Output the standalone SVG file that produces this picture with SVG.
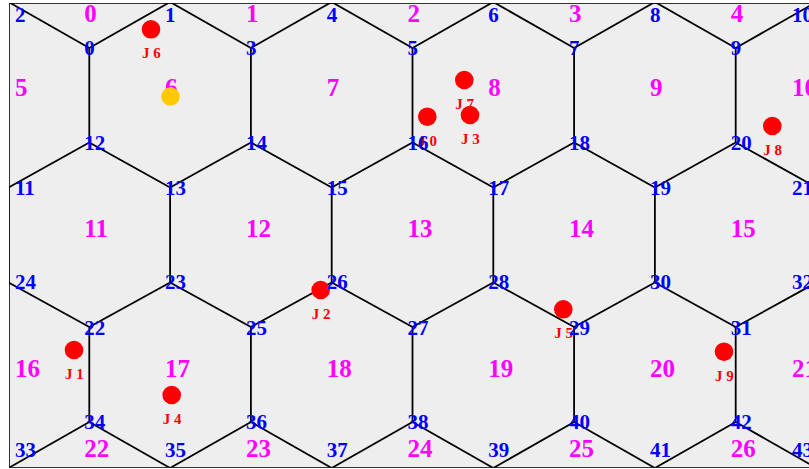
<svg xmlns="http://www.w3.org/2000/svg" width="809" height="469" viewBox="0 0 809 469">
<style>
.edge{fill:none;stroke:#000;stroke-width:1.8;stroke-linejoin:miter}
.hl{font-family:"Liberation Serif","Times New Roman",serif;font-weight:bold;font-size:25px;fill:#FF00FF}
.vl{font-family:"Liberation Serif","Times New Roman",serif;font-weight:bold;font-size:21px;fill:#0000FF}
.jl{font-family:"Liberation Serif","Times New Roman",serif;font-weight:bold;font-size:15px;fill:#FF0000}
.jd{fill:#FF0000}
.yd{fill:#FFC800}
</style>
<defs>
<clipPath id="panel"><rect x="9" y="3" width="810" height="464.5"/></clipPath>
</defs>
<rect x="0" y="0" width="809" height="469" fill="#FFFFFF"/>
<rect x="9.5" y="3.5" width="810" height="464" fill="#EEEEEE" stroke="#333333" stroke-width="1"/>
<g id="connectors" clip-path="url(#panel)">
<path class="edge" d="M8.5,2 L89.3,48 L170.1,2 L250.9,48 L331.7,2 L412.5,48 L493.3,2 L574.1,48 L654.9,2 L735.7,48 L816.5,2
M89.3,48V142.5 M250.9,48V142.5 M412.5,48V142.5 M574.1,48V142.5 M735.7,48V142.5
M8.5,187.5 L89.3,142.5 L170.1,187.5 L250.9,142.5 L331.7,187.5 L412.5,142.5 L493.3,187.5 L574.1,142.5 L654.9,187.5 L735.7,142.5 L816.5,187.5
M8.5,187.5V282.5 M170.1,187.5V282.5 M331.7,187.5V282.5 M493.3,187.5V282.5 M654.9,187.5V282.5 M816.5,187.5V282.5
M8.5,282.5 L89.3,327 L170.1,282.5 L250.9,327 L331.7,282.5 L412.5,327 L493.3,282.5 L574.1,327 L654.9,282.5 L735.7,327 L816.5,282.5
M89.3,327V422 M250.9,327V422 M412.5,327V422 M574.1,327V422 M735.7,327V422
M8.5,468 L89.3,422 L170.1,468 L250.9,422 L331.7,468 L412.5,422 L493.3,468 L574.1,422 L654.9,468 L735.7,422 L816.5,468"/>
</g>
<g id="hexes">
<g id="hex0"><text class="hl" x="84.3" y="22">0</text></g>
<g id="hex1"><text class="hl" x="245.9" y="22">1</text></g>
<g id="hex2"><text class="hl" x="407.5" y="22">2</text></g>
<g id="hex3"><text class="hl" x="569.1" y="22">3</text></g>
<g id="hex4"><text class="hl" x="730.7" y="22">4</text></g>
<g id="hex5"><text class="hl" x="15" y="96">5</text></g>
<g id="hex6"><text class="hl" x="165.1" y="96">6</text></g>
<g id="hex7"><text class="hl" x="326.7" y="96">7</text></g>
<g id="hex8"><text class="hl" x="488.3" y="96">8</text></g>
<g id="hex9"><text class="hl" x="649.9" y="96">9</text></g>
<g id="hex10"><text class="hl" x="792" y="96">10</text></g>
<g id="hex11"><text class="hl" x="84.3" y="236.5">11</text></g>
<g id="hex12"><text class="hl" x="245.9" y="236.5">12</text></g>
<g id="hex13"><text class="hl" x="407.5" y="236.5">13</text></g>
<g id="hex14"><text class="hl" x="569.1" y="236.5">14</text></g>
<g id="hex15"><text class="hl" x="730.7" y="236.5">15</text></g>
<g id="hex16"><text class="hl" x="15" y="376.5">16</text></g>
<g id="hex17"><text class="hl" x="165.1" y="376.5">17</text></g>
<g id="hex18"><text class="hl" x="326.7" y="376.5">18</text></g>
<g id="hex19"><text class="hl" x="488.3" y="376.5">19</text></g>
<g id="hex20"><text class="hl" x="649.9" y="376.5">20</text></g>
<g id="hex21"><text class="hl" x="792" y="376.5">21</text></g>
<g id="hex22"><text class="hl" x="84.3" y="457">22</text></g>
<g id="hex23"><text class="hl" x="245.9" y="457">23</text></g>
<g id="hex24"><text class="hl" x="407.5" y="457">24</text></g>
<g id="hex25"><text class="hl" x="569.1" y="457">25</text></g>
<g id="hex26"><text class="hl" x="730.7" y="457">26</text></g>
</g>
<g id="markers">
<g id="start"><circle class="yd" cx="170.5" cy="96.5" r="9.3"/></g>
<g id="J0"><circle class="jd" cx="427.3" cy="116.7" r="9.3"/><text class="jl" x="418.3" y="145.5">J 0</text></g>
<g id="J1"><circle class="jd" cx="74" cy="350" r="9.3"/><text class="jl" x="65" y="378.5">J 1</text></g>
<g id="J2"><circle class="jd" cx="320.7" cy="290" r="9.3"/><text class="jl" x="311.7" y="318.5">J 2</text></g>
<g id="J3"><circle class="jd" cx="470" cy="115" r="9.3"/><text class="jl" x="461" y="143.5">J 3</text></g>
<g id="J4"><circle class="jd" cx="171.7" cy="395" r="9.3"/><text class="jl" x="162.7" y="423.5">J 4</text></g>
<g id="J5"><circle class="jd" cx="563.3" cy="309.3" r="9.3"/><text class="jl" x="554.3" y="338">J 5</text></g>
<g id="J6"><circle class="jd" cx="151" cy="29.3" r="9.3"/><text class="jl" x="142" y="58">J 6</text></g>
<g id="J7"><circle class="jd" cx="464.3" cy="80" r="9.3"/><text class="jl" x="455.3" y="109">J 7</text></g>
<g id="J8"><circle class="jd" cx="772.3" cy="126" r="9.3"/><text class="jl" x="763.3" y="155">J 8</text></g>
<g id="J9"><circle class="jd" cx="724" cy="351.7" r="9.3"/><text class="jl" x="715" y="381">J 9</text></g>
</g>
<g id="vertices">
<g id="v0"><text class="vl" x="84.3" y="55">0</text></g>
<g id="v1"><text class="vl" x="165.1" y="22">1</text></g>
<g id="v2"><text class="vl" x="15" y="22">2</text></g>
<g id="v3"><text class="vl" x="245.9" y="55">3</text></g>
<g id="v4"><text class="vl" x="326.7" y="22">4</text></g>
<g id="v5"><text class="vl" x="407.5" y="55">5</text></g>
<g id="v6"><text class="vl" x="488.3" y="22">6</text></g>
<g id="v7"><text class="vl" x="569.1" y="55">7</text></g>
<g id="v8"><text class="vl" x="649.9" y="22">8</text></g>
<g id="v9"><text class="vl" x="730.7" y="55">9</text></g>
<g id="v10"><text class="vl" x="792" y="22">10</text></g>
<g id="v11"><text class="vl" x="15" y="195">11</text></g>
<g id="v12"><text class="vl" x="84.3" y="150">12</text></g>
<g id="v13"><text class="vl" x="165.1" y="195">13</text></g>
<g id="v14"><text class="vl" x="245.9" y="150">14</text></g>
<g id="v15"><text class="vl" x="326.7" y="195">15</text></g>
<g id="v16"><text class="vl" x="407.5" y="150">16</text></g>
<g id="v17"><text class="vl" x="488.3" y="195">17</text></g>
<g id="v18"><text class="vl" x="569.1" y="150">18</text></g>
<g id="v19"><text class="vl" x="649.9" y="195">19</text></g>
<g id="v20"><text class="vl" x="730.7" y="150">20</text></g>
<g id="v21"><text class="vl" x="792" y="195">21</text></g>
<g id="v22"><text class="vl" x="84.3" y="335">22</text></g>
<g id="v23"><text class="vl" x="165.1" y="289">23</text></g>
<g id="v24"><text class="vl" x="15" y="289">24</text></g>
<g id="v25"><text class="vl" x="245.9" y="335">25</text></g>
<g id="v26"><text class="vl" x="326.7" y="289">26</text></g>
<g id="v27"><text class="vl" x="407.5" y="335">27</text></g>
<g id="v28"><text class="vl" x="488.3" y="289">28</text></g>
<g id="v29"><text class="vl" x="569.1" y="335">29</text></g>
<g id="v30"><text class="vl" x="649.9" y="289">30</text></g>
<g id="v31"><text class="vl" x="730.7" y="335">31</text></g>
<g id="v32"><text class="vl" x="792" y="289">32</text></g>
<g id="v33"><text class="vl" x="15" y="457">33</text></g>
<g id="v34"><text class="vl" x="84.3" y="428.5">34</text></g>
<g id="v35"><text class="vl" x="165.1" y="457">35</text></g>
<g id="v36"><text class="vl" x="245.9" y="428.5">36</text></g>
<g id="v37"><text class="vl" x="326.7" y="457">37</text></g>
<g id="v38"><text class="vl" x="407.5" y="428.5">38</text></g>
<g id="v39"><text class="vl" x="488.3" y="457">39</text></g>
<g id="v40"><text class="vl" x="569.1" y="428.5">40</text></g>
<g id="v41"><text class="vl" x="649.9" y="457">41</text></g>
<g id="v42"><text class="vl" x="730.7" y="428.5">42</text></g>
<g id="v43"><text class="vl" x="792" y="457">43</text></g>
</g>
</svg>
